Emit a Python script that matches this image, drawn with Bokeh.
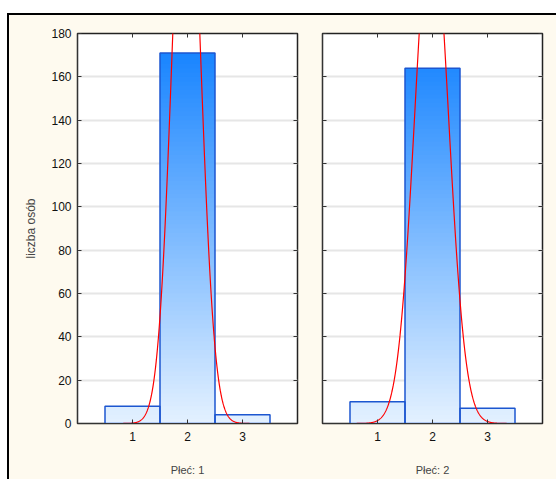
import numpy as np
from bokeh.plotting import figure
from bokeh.layouts import row
from bokeh.models import LinearAxis, FixedTicker, Range1d, CustomLabelingPolicy
from bokeh.embed import file_html
from bokeh.resources import INLINE

# ---- data ----
categories = [1, 2, 3]
counts_p1 = [8, 171, 4]
counts_p2 = [10, 164, 7]
panel_labels = ["Płeć: 1", "Płeć: 2"]
y_ticks = [0, 20, 40, 60, 80, 100, 120, 140, 160, 180]
y_label = "liczba osób"

CREAM = "#FEFAEF"
FONT = "Liberation Sans"

HIDE_LABELS = """
for (const i of indices)
    indices.unset(i)
return indices
"""


def grad_color(y):
    t = max(0.0, min(1.0, y / 180.0))
    r = int(round(228 + (14 - 228) * t))
    g = int(round(241 + (127 - 241) * t))
    b = 255
    return "#%02x%02x%02x" % (r, g, b)


def style_axis(ax, labels=True):
    ax.major_tick_in = 4
    ax.major_tick_out = 0
    ax.minor_tick_in = 0
    ax.minor_tick_out = 0
    ax.major_tick_line_color = "#333333"
    ax.axis_line_color = "#333333"
    ax.major_label_text_font = FONT
    ax.major_label_text_color = "#111111"
    if labels:
        ax.major_label_text_font_size = "12px"
    else:
        ax.major_label_text_font_size = "1px"
        ax.major_label_standoff = 0
        ax.major_label_policy = CustomLabelingPolicy(code=HIDE_LABELS)


def make_panel(counts, xlabel, show_y, width, mbl, mbr):
    p = figure(width=width, height=464, x_range=Range1d(0, 4), y_range=Range1d(0, 180),
               output_backend="svg", toolbar_location=None,
               min_border_left=mbl, min_border_right=mbr,
               min_border_top=18, min_border_bottom=56,
               background_fill_color="white", border_fill_color=CREAM,
               outline_line_color="#222222", outline_line_width=1.5)
    p.xgrid.visible = False
    p.ygrid.ticker = FixedTicker(ticks=y_ticks)
    p.ygrid.grid_line_color = "#E6E6E6"
    p.ygrid.grid_line_width = 2

    p.xaxis.ticker = FixedTicker(ticks=categories)
    p.yaxis.ticker = FixedTicker(ticks=y_ticks)
    style_axis(p.xaxis[0])
    style_axis(p.yaxis[0], labels=show_y)
    p.xaxis.major_label_standoff = 8
    p.xaxis.axis_label = xlabel
    p.xaxis.axis_label_text_font = FONT
    p.xaxis.axis_label_text_font_size = "11px"
    p.xaxis.axis_label_text_font_style = "normal"
    p.xaxis.axis_label_standoff = 20
    if show_y:
        p.yaxis.axis_label = y_label
        p.yaxis.axis_label_text_font = FONT
        p.yaxis.axis_label_text_font_size = "12px"
        p.yaxis.axis_label_text_font_style = "normal"
        p.yaxis.axis_label_standoff = 10
        p.yaxis.major_label_standoff = 6

    top_ax = LinearAxis(ticker=FixedTicker(ticks=categories))
    style_axis(top_ax, labels=False)
    top_ax.axis_line_color = None
    p.add_layout(top_ax, "above")
    right_ax = LinearAxis(ticker=FixedTicker(ticks=y_ticks))
    style_axis(right_ax, labels=False)
    right_ax.axis_line_color = None
    p.add_layout(right_ax, "right")

    # gradient-filled bars: overlapping slices, each from its level up to the bar top
    lefts, rights, bots, tops, cols = [], [], [], [], []
    step = 2
    for c, v in zip(categories, counts):
        k = 0
        while k < v:
            lefts.append(c - 0.5)
            rights.append(c + 0.5)
            bots.append(k)
            tops.append(v)
            cols.append(grad_color(k + step / 2))
            k += step
    p.quad(left=lefts, right=rights, bottom=bots, top=tops, fill_color=cols,
           line_color=None)
    p.quad(left=[c - 0.5 for c in categories], right=[c + 0.5 for c in categories],
           bottom=0, top=counts, fill_color=None, line_color="#1C56D0", line_width=1.5)

    # fitted normal curve (from the counts)
    n = sum(counts)
    mean = sum(c * v for c, v in zip(categories, counts)) / n
    var = sum(v * (c - mean) ** 2 for c, v in zip(categories, counts)) / n
    sd = var ** 0.5
    xs = np.linspace(0, 4, 801)
    ys = n / (sd * np.sqrt(2 * np.pi)) * np.exp(-0.5 * ((xs - mean) / sd) ** 2)
    p.line(xs, ys, line_color="#FF0000", line_width=1.2)
    return p


p1 = make_panel(counts_p1, panel_labels[0], True, 301, 68, 13)
p2 = make_panel(counts_p2, panel_labels[1], False, 246, 12, 14)

layout = row(p1, p2, styles={"background-color": CREAM,
                             "border-top": "2px solid #000",
                             "border-left": "2px solid #000",
                             "margin-top": "13px",
                             "margin-left": "7px"})

open("out.html", "w").write(file_html(layout, INLINE))
